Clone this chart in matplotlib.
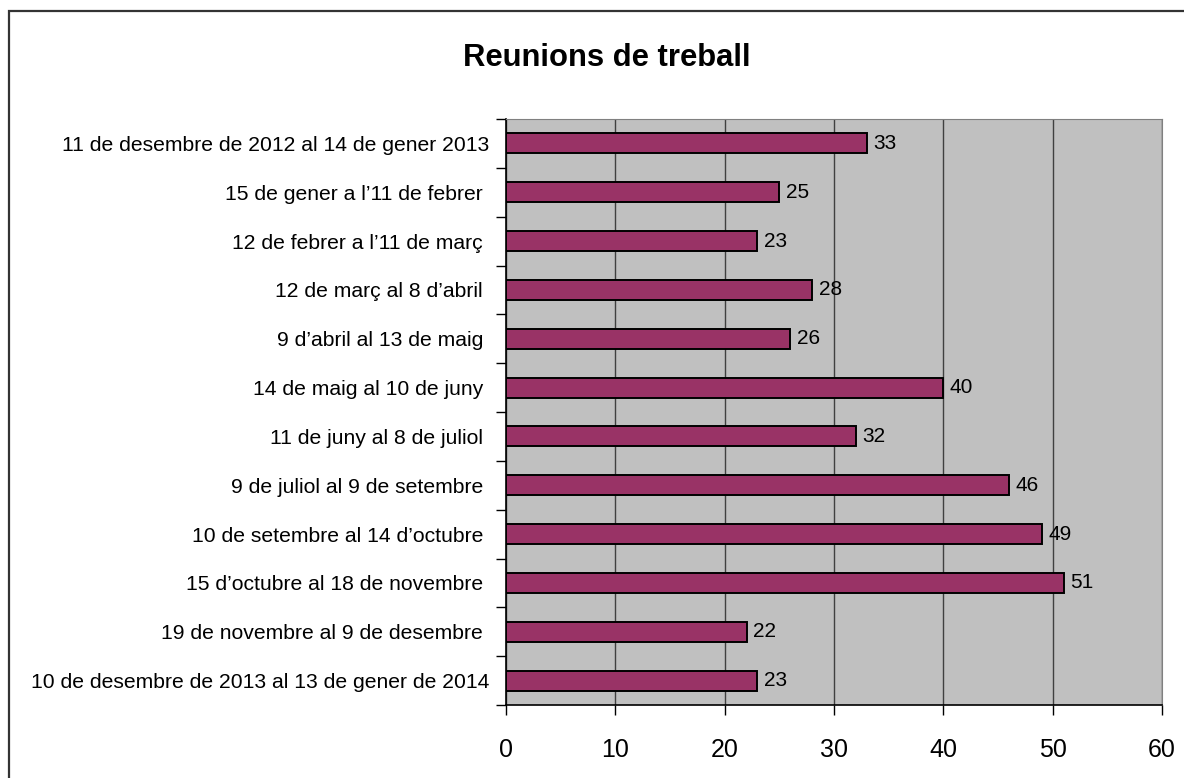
import numpy as np
import matplotlib.pyplot as plt
from matplotlib.patches import Rectangle

# dades (alguns noms porten un espai final com a l'original)
periodes = [
    "11 de desembre de 2012 al 14 de gener 2013",
    "15 de gener a l\u201911 de febrer ",
    "12 de febrer a l\u201911 de mar\u00e7 ",
    "12 de mar\u00e7 al 8 d\u2019abril ",
    "9 d\u2019abril al 13 de maig ",
    "14 de maig al 10 de juny ",
    "11 de juny al 8 de juliol ",
    "9 de juliol al 9 de setembre ",
    "10 de setembre al 14 d\u2019octubre ",
    "15 d\u2019octubre al 18 de novembre ",
    "19 de novembre al 9 de desembre ",
    "10 de desembre de 2013 al 13 de gener de 2014",
]
reunions = [33, 25, 23, 28, 26, 40, 32, 46, 49, 51, 22, 23]
xticks = [0, 10, 20, 30, 40, 50, 60]

plt.rcParams['font.family'] = ['Liberation Sans', 'DejaVu Sans']

fig = plt.figure(figsize=(11.84, 7.78), dpi=100)
ax = fig.add_axes([506/1184, 1-705/778, (1162-506)/1184, (705-119)/778])

# marc exterior
fig.patches.append(Rectangle((9/1184, -0.1), 1.2, 1-11/778+0.1, transform=fig.transFigure,
                             fill=False, edgecolor='#333333', linewidth=1.6))

n = len(periodes)
y = np.arange(n)
ax.set_facecolor('#c0c0c0')
ax.barh(y, reunions, height=0.41, color='#993366', edgecolor='black', linewidth=1.4, zorder=3)
for yi, v in zip(y, reunions):
    ax.text(v + 0.6, yi, str(v), va='center', ha='left', fontsize=15, zorder=4)

ax.set_xlim(0, 60)
ax.set_ylim(n - 0.5, -0.5)
ax.set_xticks(xticks)
ax.set_xticklabels([str(t) for t in xticks], fontsize=18)
ax.tick_params(axis='x', direction='out', length=7, width=1, pad=17)
ax.set_yticks(y)
ax.set_yticklabels(periodes, fontsize=15.2)
ax.set_yticks(np.arange(-0.5, n, 1), minor=True)
ax.tick_params(axis='y', which='major', length=0, pad=12.3)
ax.tick_params(axis='y', which='minor', direction='out', length=7, width=1)
ax.xaxis.grid(True, color='#404040', linewidth=1, zorder=1)
ax.set_axisbelow(True)

for s in ['top', 'right']:
    ax.spines[s].set_color('#808080')
for s in ['left', 'bottom']:
    ax.spines[s].set_color('black')
    ax.spines[s].set_linewidth(1.2)

fig.text(607/1184, 1-58/778, "Reunions de treball", ha='center', va='center',
         fontsize=22.3, fontweight='bold')

fig.savefig('out.png', dpi=100)
